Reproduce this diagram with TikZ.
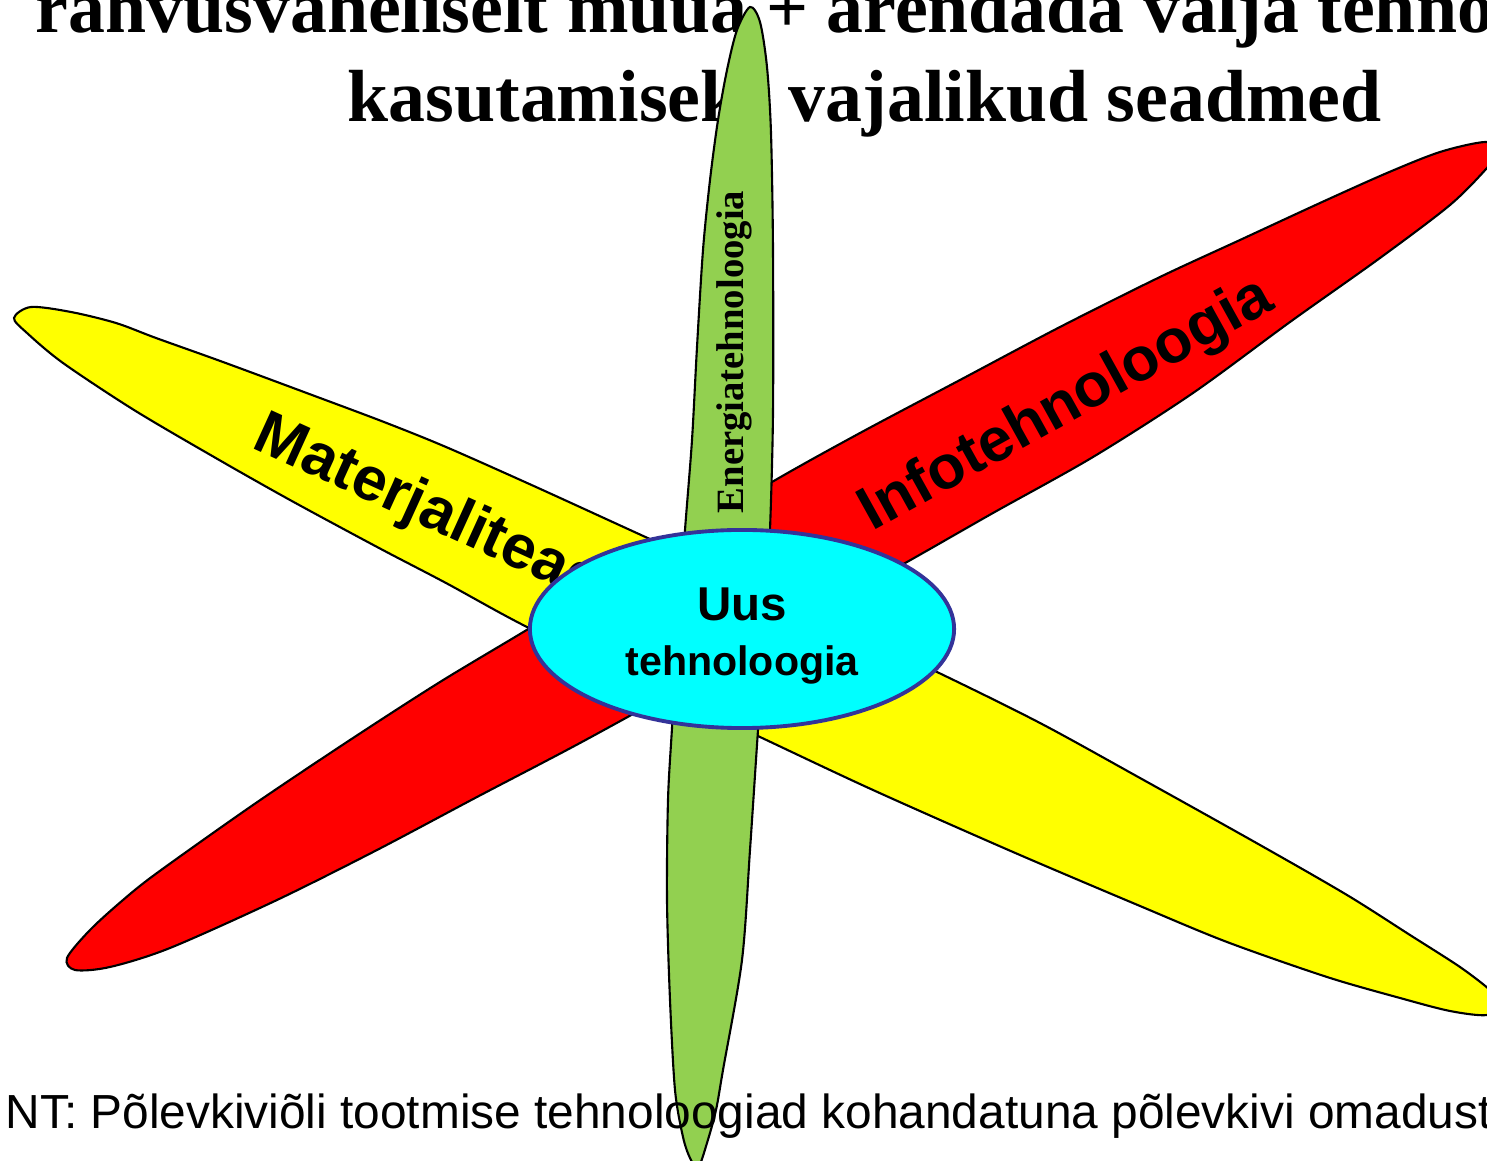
\documentclass[tikz,border=0pt]{standalone}
\usepackage{fontspec}
\setmainfont{Liberation Serif}
\setsansfont{Liberation Sans}
\usepackage{xcolor}
\usetikzlibrary{shapes.geometric}

\definecolor{petalred}{HTML}{FF0000}
\definecolor{petalyellow}{HTML}{FFFF00}
\definecolor{petalgreen}{HTML}{92D050}
\definecolor{hubcyan}{HTML}{00FFFF}
\definecolor{hubblue}{HTML}{333399}

\begin{document}
\begin{tikzpicture}[x=0.01cm, y=-0.01cm,
    petal/.style={draw=black, line width=0.6pt},
    bandtext/.style={font=\sffamily\bfseries\fontsize{17.5}{21}\selectfont, inner sep=0pt},
    titletext/.style={font=\bfseries\fontsize{21}{25}\selectfont, inner sep=0pt, anchor=base west}]
    \useasboundingbox (0,0) rectangle (1487,1161);
    \clip (0,0) rectangle (1487,1161);

    % title, cut by the page edge
    \node[titletext] (title1) at (35,33) {rahvusvaheliselt müüa + arendada välja tehnoloogiate};
    \node[titletext] (title2) at (347,122) {kasutamiseks vajalikud seadmed};

    % petals
    \draw[petal, fill=petalred] plot[smooth cycle] coordinates {
        (67,958) (75,970) (110,967) (170,948) (277,900) (377,850) (477,797) (580,743)
        (700,677) (820,610) (907,562) (993,513) (1093,457) (1193,393) (1290,322)
        (1380,258) (1450,205) (1487,168) (1500,150) (1485,142) (1440,152) (1387,173)
        (1320,203) (1240,240) (1160,277) (1060,327) (960,380) (860,433)
        (772,482) (650,555) (530,628) (440,682) (350,740) (253,805) (157,873)
        (123,900) (90,930)};
    \draw[petal, fill=petalyellow] plot[smooth cycle] coordinates {
        (14,318) (31,307) (71,312) (116,323) (156,338) (223,362) (312,395) (384,422)
        (446,447) (536,487) (652,540) (795,605) (937,672) (1040,723) (1140,778)
        (1260,845) (1347,895) (1410,935) (1460,967) (1490,990) (1500,1003) (1487,1015)
        (1450,1011) (1400,998) (1327,977) (1227,942) (1140,906) (1013,852) (873,790)
        (760,737) (643,682) (527,627) (446,583) (379,548) (290,500) (214,457)
        (134,410) (63,363) (27,333)};
    \node[bandtext, rotate=-24.5, anchor=base west] (mat) at (250,447) {Materjaliteadus};
    \node[bandtext, rotate=29, anchor=base west] (info) at (872,532) {Infotehnoloogia};
    \draw[petal, fill=petalgreen] plot[smooth cycle] coordinates {
        (750,7) (760,22) (767,67) (771,133) (773,250) (773,413) (770,530) (765,630)
        (758,730) (750,850) (742,960) (723,1070) (716,1110) (707,1143) (698,1168)
        (690,1158) (683,1137) (675,1090) (670,1000) (667,900) (668,800) (672,728)
        (678,630) (685,530) (692,440) (697,347) (703,250) (710,180) (718,120)
        (727,70) (737,30)};
    \node[rotate=90, anchor=base, inner sep=0pt,
          font=\bfseries\fontsize{11}{13}\selectfont] (energia) at (743,352) {Energiatehnoloogia};

    % centre
    \node[ellipse, draw=hubblue, line width=1.1pt, fill=hubcyan, inner sep=0pt,
          minimum width=4.24cm, minimum height=1.98cm, align=center,
          font=\sffamily\bfseries\fontsize{11.7}{15.65}\selectfont] (hub) at (742,629)
          {{\fontsize{13.5}{15.65}\selectfont\rule{0pt}{13.5pt}Uus}\\tehnoloogia};

    % note at the bottom
    \node[anchor=base west, inner sep=0pt, font=\sffamily\fontsize{13.6}{16}\selectfont]
          (note) at (5,1128) {NT: Põlevkiviõli tootmise tehnoloogiad kohandatuna põlevkivi omadustega};
\end{tikzpicture}
\end{document}
